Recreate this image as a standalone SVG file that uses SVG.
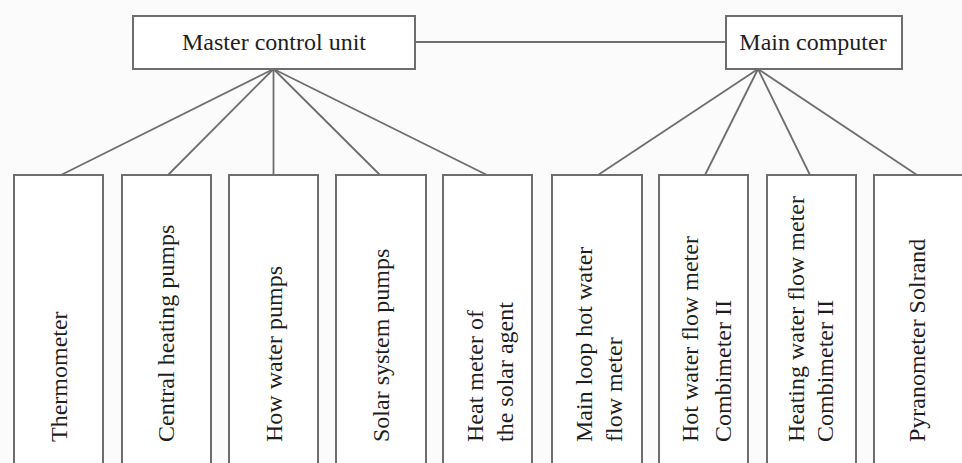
<svg xmlns="http://www.w3.org/2000/svg" width="962" height="463" viewBox="0 0 962 463">
<style>
.box{fill:#ffffff;stroke:#6e6e6e;stroke-width:2}
.ln{stroke:#6e6e6e;stroke-width:1.8;fill:none}
text{font-family:"Liberation Serif","Times New Roman",serif;font-size:24px;fill:#1e1e1e}
.h{text-anchor:middle}
</style>
<rect width="962" height="463" fill="#fbfbfb"/>
<g id="connectors">
<line class="ln" x1="415" y1="42" x2="726" y2="42"/>
<line class="ln" x1="273.5" y1="69" x2="61" y2="175"/>
<line class="ln" x1="273.5" y1="69" x2="168" y2="175"/>
<line class="ln" x1="273.5" y1="69" x2="273.5" y2="175"/>
<line class="ln" x1="273.5" y1="69" x2="380" y2="175"/>
<line class="ln" x1="273.5" y1="69" x2="487" y2="175"/>
<line class="ln" x1="758" y1="69" x2="598" y2="175"/>
<line class="ln" x1="758" y1="69" x2="705" y2="175"/>
<line class="ln" x1="758" y1="69" x2="810" y2="175"/>
<line class="ln" x1="758" y1="69" x2="917" y2="175"/>
</g>
<g id="master">
<rect class="box" x="133" y="16" width="282" height="53"/>
<text class="h" x="274" y="50">Master control unit</text>
</g>
<g id="computer">
<rect class="box" x="726" y="16" width="176" height="53"/>
<text class="h" x="813" y="50">Main computer</text>
</g>
<g id="thermometer">
<rect class="box" x="14" y="175" width="89" height="300"/>
<text transform="translate(67,442) rotate(-90)">Thermometer</text>
</g>
<g id="central-heating">
<rect class="box" x="122" y="175" width="89" height="300"/>
<text transform="translate(174,442) rotate(-90)">Central heating pumps</text>
</g>
<g id="how-water">
<rect class="box" x="229" y="175" width="89" height="300"/>
<text transform="translate(282,442) rotate(-90)">How water pumps</text>
</g>
<g id="solar-pumps">
<rect class="box" x="336" y="175" width="90" height="300"/>
<text transform="translate(389,442) rotate(-90)">Solar system pumps</text>
</g>
<g id="heat-meter">
<rect class="box" x="443" y="175" width="89" height="300"/>
<text transform="translate(483,442) rotate(-90)">Heat meter of</text>
<text transform="translate(513,442) rotate(-90)">the solar agent</text>
</g>
<g id="main-loop">
<rect class="box" x="552" y="175" width="90" height="300"/>
<text transform="translate(592,442) rotate(-90)">Main loop hot water</text>
<text transform="translate(622,442) rotate(-90)">flow meter</text>
</g>
<g id="hot-water-meter">
<rect class="box" x="659" y="175" width="89" height="300"/>
<text transform="translate(698,442) rotate(-90)">Hot water flow meter</text>
<text transform="translate(731,442) rotate(-90)">Combimeter II</text>
</g>
<g id="heating-water-meter">
<rect class="box" x="767" y="175" width="89" height="300"/>
<text transform="translate(804,442) rotate(-90)">Heating water flow meter</text>
<text transform="translate(833,442) rotate(-90)">Combimeter II</text>
</g>
<g id="pyranometer">
<rect class="box" x="874" y="175" width="92" height="300"/>
<text transform="translate(925,442) rotate(-90)">Pyranometer Solrand</text>
</g>
</svg>
